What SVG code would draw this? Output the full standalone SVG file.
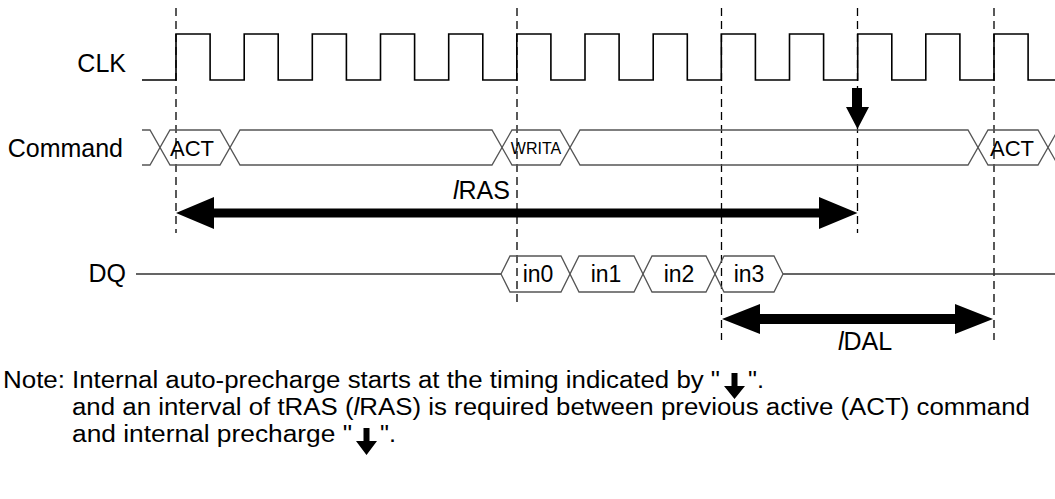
<svg xmlns="http://www.w3.org/2000/svg" width="1055" height="499" viewBox="0 0 1055 499">
<style>
text{font-family:"Liberation Sans",Arial,sans-serif;fill:#000}
.lbl{font-size:25px}
.bus{fill:none;stroke:#555;stroke-width:1.3}
.clk{fill:none;stroke:#000;stroke-width:1.6}
.dash{fill:none;stroke:#000;stroke-width:1.3;stroke-dasharray:8 5}
.note{font-size:23px}
</style>
<rect width="1055" height="499" fill="#fff"/>
<g id="guides">
<line class="dash" x1="176" y1="8" x2="176" y2="233"/>
<line class="dash" x1="517" y1="8" x2="517" y2="306"/>
<line class="dash" x1="721.5" y1="8" x2="721.5" y2="340"/>
<line class="dash" x1="857.5" y1="8" x2="857.5" y2="233"/>
<line class="dash" x1="994" y1="8" x2="994" y2="340"/>
</g>
<g id="clk">
<text class="lbl" x="126" y="72" text-anchor="end">CLK</text>
<path class="clk" d="M142,80 H176 V34 H210.1 V80 H244.2 V34 H278.2 V80 H312.3 V34 H346.4 V80 H380.5 V34 H414.6 V80 H448.7 V34 H482.8 V80 H516.8 V34 H550.9 V80 H585 V34 H619.1 V80 H653.2 V34 H687.3 V80 H721.3 V34 H755.4 V80 H789.5 V34 H823.6 V80 H857.7 V34 H891.8 V80 H925.8 V34 H959.9 V80 H994 V34 H1028.1 V80 H1056"/>
</g>
<g id="command">
<text class="lbl" x="123" y="157" text-anchor="end">Command</text>
<path class="bus" d="M142,130 H150 L170,165 H220 L240,130 H492 L512,165 H560 L580,130 H968 L988,165 H1038 L1058,130"/>
<path class="bus" d="M142,165 H150 L170,130 H220 L240,165 H492 L512,130 H560 L580,165 H968 L988,130 H1038 L1058,165"/>
<text x="192" y="156" font-size="22" text-anchor="middle">ACT</text>
<text x="536" y="154" font-size="16" text-anchor="middle">WRITA</text>
<text x="1012" y="156" font-size="22" text-anchor="middle">ACT</text>
</g>
<g id="dq">
<text class="lbl" x="126" y="282" text-anchor="end">DQ</text>
<path class="bus" style="stroke:#333" d="M136,274 H501 M783,274 H1056"/>
<path class="bus" d="M501,274 L510,256 H561 L579,292 H634 L652,256 H706 L724,292 H774 L783,274"/>
<path class="bus" d="M501,274 L510,292 H561 L579,256 H634 L652,292 H706 L724,256 H774 L783,274"/>
<text x="538" y="282" font-size="23" text-anchor="middle">in0</text>
<text x="606" y="282" font-size="23" text-anchor="middle">in1</text>
<text x="679" y="282" font-size="23" text-anchor="middle">in2</text>
<text x="749" y="282" font-size="23" text-anchor="middle">in3</text>
</g>
<g id="connectors">
<path id="precharge-arrow" d="M852,88 H862 V107 H869 L857.5,129 L846,107 H852 Z" fill="#000"/>
<path id="tRAS" d="M176,213 L214,197 V208.5 H819 V197 L857.5,213 L819,229 V217.5 H214 V229 Z" fill="#000"/>
<path id="tDAL" d="M722,319 L760,304 V314 H955 V304 L993,319 L955,334 V324 H760 V334 Z" fill="#000"/>
</g>
<g id="labels">
<text class="lbl" x="453" y="199"><tspan font-style="italic">l</tspan>RAS</text>
<text class="lbl" x="838" y="350"><tspan font-style="italic">l</tspan>DAL</text>
</g>
<g id="note">
<text class="note" x="3" y="388" textLength="62" lengthAdjust="spacingAndGlyphs">Note:</text>
<text class="note" x="72" y="388" textLength="648" lengthAdjust="spacingAndGlyphs">Internal auto-precharge starts at the timing indicated by "</text>
<path d="M731.5,373 H737.5 V386 H745 L734.5,399 L724,386 H731.5 Z" fill="#000"/>
<text class="note" x="748" y="388" textLength="16" lengthAdjust="spacingAndGlyphs">".</text>
<text class="note" x="72" y="415" textLength="958" lengthAdjust="spacingAndGlyphs">and an interval of tRAS (<tspan font-style="italic">l</tspan>RAS) is required between previous active (ACT) command</text>
<text class="note" x="72" y="442" textLength="280" lengthAdjust="spacingAndGlyphs">and internal precharge "</text>
<path d="M363.5,428 H369.5 V441 H377 L366.5,455 L356,441 H363.5 Z" fill="#000"/>
<text class="note" x="380" y="442" textLength="16" lengthAdjust="spacingAndGlyphs">".</text>
</g>
</svg>
